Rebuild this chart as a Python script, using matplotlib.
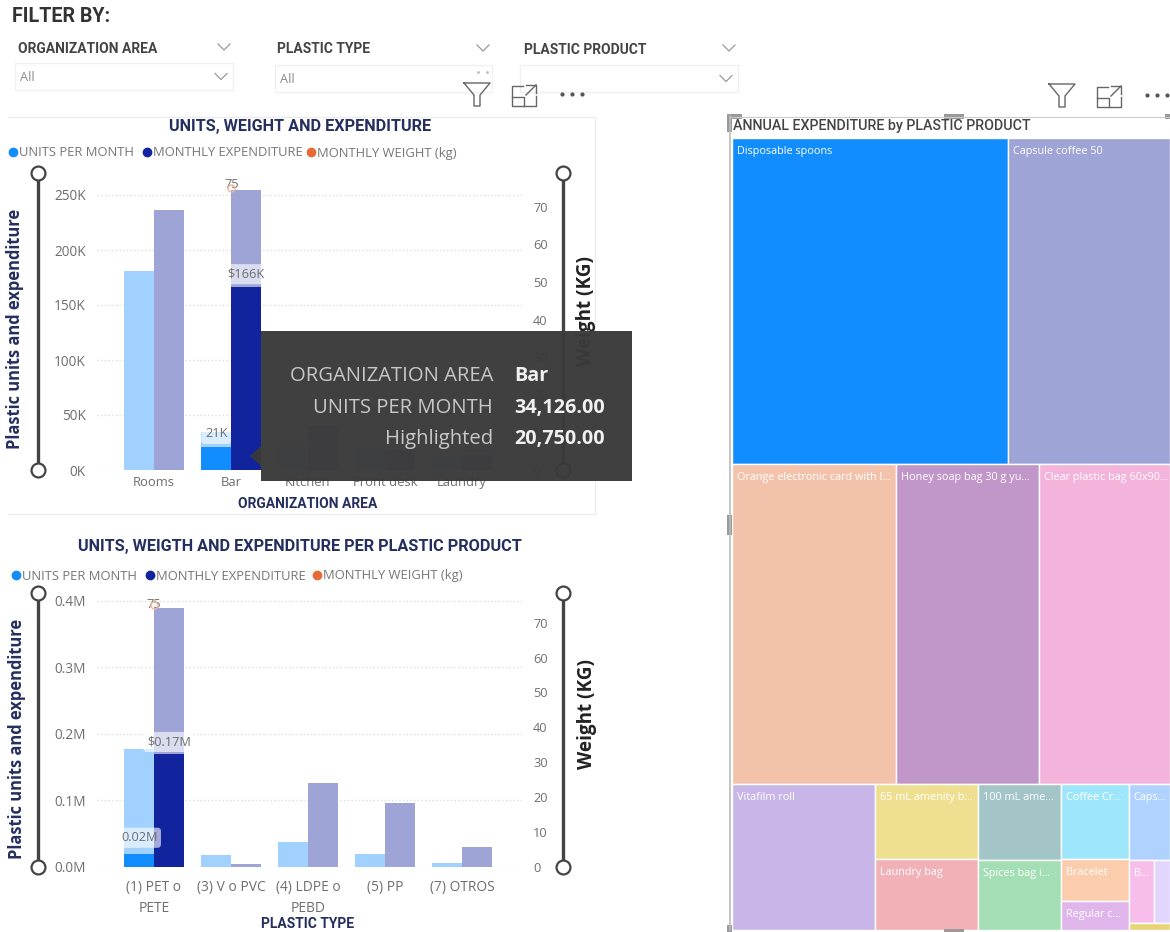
import matplotlib
matplotlib.use("Agg")
import matplotlib.pyplot as plt
from matplotlib.patches import Rectangle, Polygon

plt.rcParams["font.family"] = ["Open Sans", "DejaVu Sans"]

# top chart: by organization area
areas = ["Rooms", "Bar", "Kitchen", "Front desk", "Laundry"]
area_units = [181000, 34126, 22000, 20000, 12000]
area_units_hl = [0, 20750, 0, 0, 0]
area_spend = [236000, 255000, 40000, 18000, 14000]
area_spend_hl = [0, 166000, 0, 0, 0]
area_weight = [None, 75, None, None, None]
area_ticks = [0, 50000, 100000, 150000, 200000, 250000]
area_tick_labels = ["0K", "50K", "100K", "150K", "200K", "250K"]

# bottom chart: by plastic type
types = ["(1) PET o\nPETE", "(3) V o PVC", "(4) LDPE o\nPEBD", "(5) PP", "(7) OTROS"]
type_units = [0.178, 0.018, 0.038, 0.020, 0.006]
type_units_hl = [0.02, 0, 0, 0, 0]
type_spend = [0.39, 0.004, 0.126, 0.096, 0.030]
type_spend_hl = [0.17, 0, 0, 0, 0]
type_weight = [75, None, None, None, None]
type_ticks = [0, 0.1, 0.2, 0.3, 0.4]
type_tick_labels = ["0.0M", "0.1M", "0.2M", "0.3M", "0.4M"]

weight_ticks = [0, 10, 20, 30, 40, 50, 60, 70]

# treemap: rows of columns of (name, value, colour), values in thousands.
# a list inside a column is a band of cells sitting side by side
tree_rows = [
    [[("Disposable spoons", 90.0, "#118DFF")], [("Capsule coffee 50", 52.8, "#9FA4D6")]],
    [[("Orange electronic card with l...", 52.5, "#F3C2AB")],
     [("Honey soap bag 30 g yu...", 45.8, "#C197C9")],
     [("Clear plastic bag 60x90...", 41.9, "#F3B3DB")]],
    [[("Vitafilm roll", 20.9, "#C8B6E8")],
     [("65 mL amenity b...", 7.7, "#EFDF90"), ("Laundry bag", 7.3, "#F1B1B6")],
     [("100 mL ame...", 6.2, "#A3C5C8"), ("Spices bag i...", 5.8, "#A3DEB4")],
     [("Coffee Cr...", 5.1, "#9DE6FB"), ("Bracelet", 2.8, "#FBCDAC"), ("Regular c...", 2.0, "#E0B5EC")],
     [("Caps...", 3.1, "#B0D2FE"),
      [("B...", 1.6, "#F8BEEB"), ("", 1.0, "#E2D5FE")],
      ("", 0.3, "#E8D477")]],
]

LIGHT_UNITS = "#A0D1FF"
DARK_UNITS = "#118DFF"
LIGHT_SPEND = "#9FA4D6"
DARK_SPEND = "#12239E"
ORANGE = "#E66C37"
NAVY = "#252F5F"
GREY = "#6E6E6E"
W, H = 1170, 932
bar_w = 0.385


def px_axes(x0, y0, x1, y1):
    return fig.add_axes([x0 / W, 1 - y1 / H, (x1 - x0) / W, (y1 - y0) / H])


def bar_chart(box, names, units, units_hl, spend, spend_hl, weight, ticks, tick_labels, ytop, wtop, xsize, xpad):
    ax = px_axes(*box)
    x = list(range(len(names)))
    left = [i - bar_w / 2 for i in x]
    right = [i + bar_w / 2 for i in x]
    ax.bar(left, units, bar_w, color=LIGHT_UNITS)
    ax.bar(left, units_hl, bar_w, color=DARK_UNITS)
    ax.bar(right, spend, bar_w, color=LIGHT_SPEND)
    ax.bar(right, spend_hl, bar_w, color=DARK_SPEND)
    ax.set_xlim(-0.74, 4.78)
    ax.set_ylim(0, ytop)
    ax.set_xticks(x, names, linespacing=1.6)
    ax.set_yticks(ticks, tick_labels)
    ax.tick_params(axis="y", length=0, labelsize=9.8, labelcolor=GREY, pad=8)
    ax.tick_params(axis="x", length=0, pad=xpad, labelsize=xsize, labelcolor=GREY)
    ax.grid(axis="y", color="#DEDEDE", linestyle=":", linewidth=1)
    ax.set_axisbelow(True)
    for s in ax.spines.values():
        s.set_visible(False)
    ax.patch.set_alpha(0)

    ax2 = ax.twinx()
    ax2.set_ylim(0, wtop)
    ax2.set_yticks(weight_ticks)
    ax2.tick_params(length=0, labelsize=9.2, labelcolor=GREY, pad=8)
    for s in ax2.spines.values():
        s.set_visible(False)
    wx = [i for i, v in zip(x, weight) if v is not None]
    wy = [v for v in weight if v is not None]
    ax2.plot(wx, wy, "o", ms=5, mfc="none", mec="#F0B79C", mew=1)
    return ax, ax2


def pill(ax, x, y, s):
    ax.text(x, y, s, ha="center", va="center", fontsize=9.2, color=GREY, zorder=6,
            bbox=dict(boxstyle="round,pad=0.28", fc="white", ec="none", alpha=0.62))


fig = plt.figure(figsize=(W / 100, H / 100), dpi=100, facecolor="white")

# charts
ax1, ax1b = bar_chart((97, 173, 522, 470), areas, area_units, area_units_hl, area_spend, area_spend_hl,
                      area_weight, area_ticks, area_tick_labels, 270000, 79, 9.4, 4)
pill(ax1, 1 - bar_w / 2, area_units_hl[1] + 12000, "21K")
pill(ax1, 1 + bar_w / 2, area_spend_hl[1] + 12000, "$166K")
ax1.text(1.01, area_spend[1] + 4500, "75", ha="center", va="center", fontsize=9.2, color=GREY, zorder=6)

ax2, ax2b = bar_chart((97, 593, 522, 867), types, type_units, type_units_hl, type_spend, type_spend_hl,
                      type_weight, type_ticks, type_tick_labels, 0.412, 78.5, 9.9, 9)
pill(ax2, 0 - bar_w / 2, type_units_hl[0] + 0.024, "0.02M")
pill(ax2, bar_w / 2, type_spend_hl[0] + 0.018, "$0.17M")
ax2.text(0.0, type_spend[0] + 0.004, "75", ha="center", va="center", fontsize=9.2, color=GREY, zorder=6)

# treemap laid out from the values, rows then columns then cells
tx0, tx1, ty0, ty1 = 732, 1170, 138, 930
tm = px_axes(tx0, ty0, tx1, ty1)
tm.set_xlim(0, 1)
tm.set_ylim(1, 0)
tm.axis("off")


def cell_sum(entry):
    return sum(c[1] for c in entry) if isinstance(entry, list) else entry[1]


def draw_cell(x, y, w, h, name, colour):
    tm.add_patch(Rectangle((x, y), w, h, fc=colour, ec="white", lw=1))
    tm.text(x + 5 / (tx1 - tx0), y + 8 / (ty1 - ty0), name, color="white", fontsize=7.8,
            va="top", ha="left", clip_on=True)


total = sum(cell_sum(e) for row in tree_rows for col in row for e in col)
y = 0
for row in tree_rows:
    row_sum = sum(cell_sum(e) for col in row for e in col)
    rh = row_sum / total
    x = 0
    for col in row:
        col_sum = sum(cell_sum(e) for e in col)
        cw = col_sum / row_sum
        cy = y
        for entry in col:
            ch = rh * cell_sum(entry) / col_sum
            if isinstance(entry, list):
                sx = x
                for name, val, colour in entry:
                    sw = cw * val / cell_sum(entry)
                    draw_cell(sx, cy, sw, ch, name, colour)
                    sx += sw
            else:
                draw_cell(x, cy, cw, ch, entry[0], entry[2])
            cy += ch
        x += cw
    y += rh

# page furniture and tooltip, in pixel coordinates
ov = px_axes(0, 0, W, H)
ov.set_xlim(0, W)
ov.set_ylim(H, 0)
ov.axis("off")
ov.patch.set_alpha(0)
ov.set_zorder(10)


def dropdown(x0, x1, y0, y1, label, lx, ly, chev_y, value, inner=True):
    ov.add_patch(Rectangle((x0, y0), x1 - x0, y1 - y0, fc="white", ec="#F0F0F0", lw=1))
    ov.text(lx, ly, label, fontsize=10, fontweight="bold", color="#444444", family="Roboto", va="center")
    if value:
        ov.text(x0 + 5, (y0 + y1) / 2 + 1, value, fontsize=9.2, color="#8A8A8A", va="center")
    ov.plot([x1 - 15, x1 - 9, x1 - 3], [chev_y - 3, chev_y + 3, chev_y - 3], color="#999999", lw=0.9)
    if inner:
        cy = (y0 + y1) / 2
        ov.plot([x1 - 18, x1 - 12, x1 - 6], [cy - 3, cy + 3, cy - 3], color="#999999", lw=0.9)


def icons(x, y):
    # funnel, focus box, ellipsis
    ov.plot([x, x + 26, x + 16, x + 16, x + 10, x + 10, x], [y - 11, y - 11, y + 1, y + 12, y + 12, y + 1, y - 11],
            color="#666666", lw=1)
    ov.plot([x + 59, x + 48, x + 48, x + 72, x + 72], [y - 8, y - 8, y + 12, y + 12, y + 2], color="#666666", lw=1)
    ov.plot([x + 48, x + 60, x + 60], [y + 3, y + 3, y + 12], color="#666666", lw=1)
    ov.plot([x + 62, x + 72], [y + 1, y - 9], color="#666666", lw=1)
    ov.plot([x + 62, x + 72, x + 72], [y - 9, y - 9, y - 1], color="#666666", lw=1)
    ov.plot([x + 98, x + 108, x + 118], [y, y, y], "o", ms=2, color="#555555")


ov.text(12, 17, "FILTER BY:", fontsize=14.2, fontweight="bold", color="#333333", family="Roboto", va="center")
dropdown(15, 233, 63, 90, "ORGANIZATION AREA", 18, 49, 47, "All")
dropdown(275, 492, 65, 92, "PLASTIC TYPE", 277, 49, 48, "All", inner=False)
ov.plot([478, 487], [72, 72], "o", ms=1, color="#BBBBBB")
dropdown(520, 738, 65, 92, "PLASTIC PRODUCT", 524, 50, 48, "")
icons(464, 94)
icons(1049, 95)

# chart cards and titles
ov.plot([8, 595, 595], [117, 117, 514], color="#EDEDED", lw=1)
ov.plot([8, 595], [514, 514], color="#EDEDED", lw=1)
ov.text(300, 126, "UNITS, WEIGHT AND EXPENDITURE", fontsize=11.7, fontweight="bold", color=NAVY,
        family="Roboto", ha="center", va="center")
ov.text(300, 547, "UNITS, WEIGTH AND EXPENDITURE PER PLASTIC PRODUCT", fontsize=11.7, fontweight="bold",
        color=NAVY, family="Roboto", ha="center", va="center")
ov.text(308, 504, "ORGANIZATION AREA", fontsize=10, fontweight="bold", color=NAVY, family="Roboto",
        ha="center", va="center")
ov.text(308, 924, "PLASTIC TYPE", fontsize=10, fontweight="bold", color=NAVY, family="Roboto",
        ha="center", va="center")

# legends
legend_labels = ["UNITS PER MONTH", "MONTHLY EXPENDITURE", "MONTHLY WEIGHT (kg)"]
for xs, y in [((13, 147, 311), 153), ((16, 150, 317), 576)]:
    for lx, colour, label in zip(xs, [DARK_UNITS, DARK_SPEND, ORANGE], legend_labels):
        ov.plot([lx], [y - 1], "o", ms=6, color=colour)
        ov.text(lx + 6, y, label, fontsize=9.35, color="#777777", va="center")

# axis rules with end circles and their titles
for x, y0, y1 in [(38, 173, 470), (563, 173, 470), (38, 593, 867), (563, 593, 867)]:
    ov.plot([x, x], [y0, y1], color="#444444", lw=2.4, zorder=3)
    ov.plot([x, x], [y0, y1], "o", ms=10, mfc="white", mec="#444444", mew=1.6, zorder=4)
ov.text(15, 329, "Plastic units and expenditure", rotation=90, fontsize=11.9, fontweight="bold", color=NAVY,
        ha="center", va="center")
ov.text(17, 739, "Plastic units and expenditure", rotation=90, fontsize=11.9, fontweight="bold", color=NAVY,
        ha="center", va="center")
ov.text(586, 311, "Weight (KG)", rotation=90, fontsize=13.6, fontweight="bold", color="#222222",
        ha="center", va="center")
ov.text(587, 714, "Weight (KG)", rotation=90, fontsize=13.6, fontweight="bold", color="#222222",
        ha="center", va="center")

# treemap title and selection frame
ov.text(733, 126, "ANNUAL EXPENDITURE by PLASTIC PRODUCT", fontsize=10.3, color="#444444", family="Roboto",
        va="center", fontweight="medium")
ov.plot([730, 730], [116, 930], color="#BBBBBB", lw=1.2)
ov.plot([730, W], [117, 117], color="#CCCCCC", lw=0.8)
for hx, hy, hw, hh in [(727, 114, 15, 5), (727, 114, 5, 18), (944, 114, 20, 5), (727, 515, 5, 20),
                       (1165, 114, 5, 5), (727, 925, 5, 7), (944, 929, 20, 3)]:
    ov.add_patch(Rectangle((hx, hy), hw, hh, fc="#999999", ec="none"))

# tooltip over the top chart
ov.add_patch(Rectangle((261, 331), 371, 150, fc="#3A3A3A", ec="none", alpha=0.97, zorder=8))
ov.add_patch(Polygon([(261, 446), (250, 456), (261, 466)], fc="#3A3A3A", ec="none", alpha=0.97, zorder=8))
tip_rows = [("ORGANIZATION AREA", "Bar", 376), ("UNITS PER MONTH", "34,126.00", 408), ("Highlighted", "20,750.00", 439)]
for key, value, ty in tip_rows:
    ov.text(493, ty, key, fontsize=14.6, color="#C8C8C8", ha="right", va="center", zorder=9)
    ov.text(514, ty, value, fontsize=14.2, color="#F0F0F0", fontweight="bold", ha="left", va="center", zorder=9)

fig.savefig("out.png", dpi=100)
